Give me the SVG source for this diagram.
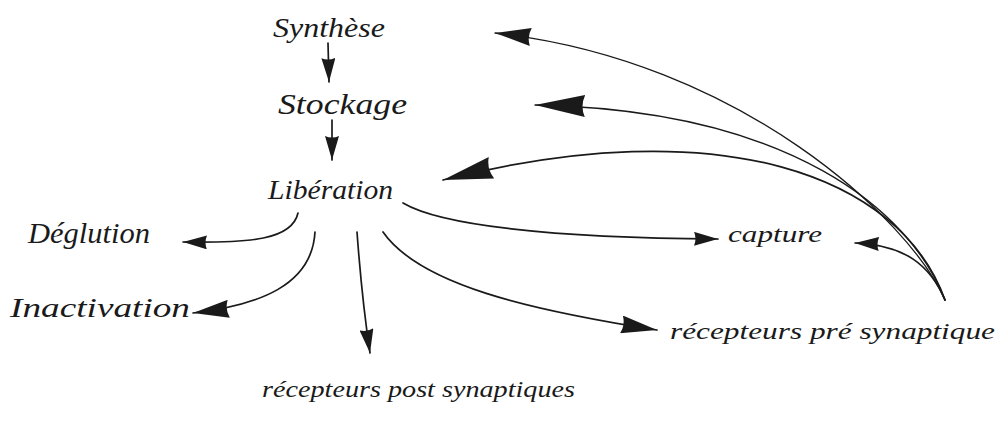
<svg xmlns="http://www.w3.org/2000/svg" width="1001" height="425" viewBox="0 0 1001 425">
<style>
.lbl{font-family:"Liberation Serif","DejaVu Serif",serif;font-style:italic;fill:#1a1a1a}
.c{fill:none;stroke:#1a1a1a;stroke-width:1.7;stroke-linecap:round}
.thin{stroke-width:1.3}
</style>
<defs>
<marker id="aL" viewBox="0 0 50 22" refX="50" refY="11" markerWidth="50" markerHeight="22" markerUnits="userSpaceOnUse" orient="auto">
<path d="M0,0 L50,11 L0,22 Q5,11 0,0 Z" fill="#1a1a1a"/>
</marker>
<marker id="aM" viewBox="0 0 36 18" refX="36" refY="9" markerWidth="36" markerHeight="18" markerUnits="userSpaceOnUse" orient="auto">
<path d="M0,0 L36,9 L0,18 Q4,9 0,0 Z" fill="#1a1a1a"/>
</marker>
<marker id="aS" viewBox="0 0 24 14" refX="24" refY="7" markerWidth="24" markerHeight="14" markerUnits="userSpaceOnUse" orient="auto">
<path d="M0,0 L24,7 L0,14 Q3,7 0,0 Z" fill="#1a1a1a"/>
</marker>
</defs>
<rect width="1001" height="425" fill="#ffffff"/>
<g id="connectors">
<path class="c" d="M328 43 L329 82" marker-end="url(#aS)"/>
<path class="c" d="M332 120 L332 160" marker-end="url(#aS)"/>
<path class="c" d="M298 213 C292 240 250 243 183 242" marker-end="url(#aS)"/>
<path class="c" d="M315 232 C312 285 260 305 193 313" marker-end="url(#aM)"/>
<path class="c" d="M357 232 Q362 300 370 353" marker-end="url(#aS)"/>
<path class="c" d="M403 203 C440 225 550 238 718 239" marker-end="url(#aS)"/>
<path class="c" d="M383 232 C420 285 530 310 657 330" marker-end="url(#aM)"/>
<path class="c thin" d="M945 300 C910 220 740 60 495 33" marker-end="url(#aM)"/>
<path class="c thin" d="M945 300 C910 210 790 110 535 105" marker-end="url(#aL)"/>
<path class="c" d="M945 300 C900 175 720 110 443 180" marker-end="url(#aL)"/>
<path class="c" d="M945 300 C930 265 905 245 855 243" marker-end="url(#aS)"/>
</g>
<g id="synthese"><text class="lbl" x="273" y="37" font-size="28" textLength="112" lengthAdjust="spacingAndGlyphs">Synthèse</text></g>
<g id="stockage"><text class="lbl" x="278" y="114" font-size="30" textLength="129" lengthAdjust="spacingAndGlyphs">Stockage</text></g>
<g id="liberation"><text class="lbl" x="268" y="199" font-size="28" textLength="125" lengthAdjust="spacingAndGlyphs">Libération</text></g>
<g id="deglution"><text class="lbl" x="28" y="243" font-size="30" textLength="122" lengthAdjust="spacingAndGlyphs">Déglution</text></g>
<g id="inactivation"><text class="lbl" x="10" y="317" font-size="28" textLength="180" lengthAdjust="spacingAndGlyphs">Inactivation</text></g>
<g id="recepteurs-post"><text class="lbl" x="262" y="397" font-size="24" textLength="313" lengthAdjust="spacingAndGlyphs">récepteurs post synaptiques</text></g>
<g id="capture"><text class="lbl" x="728" y="242" font-size="24" textLength="94" lengthAdjust="spacingAndGlyphs">capture</text></g>
<g id="recepteurs-pre"><text class="lbl" x="670" y="339" font-size="24" textLength="325" lengthAdjust="spacingAndGlyphs">récepteurs pré synaptique</text></g>
</svg>
